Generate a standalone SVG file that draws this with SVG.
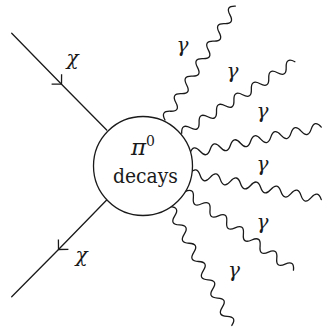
<svg xmlns="http://www.w3.org/2000/svg" width="325" height="328" viewBox="0 0 325 328">
<style>
.ln{fill:none;stroke:#1a1a1a;stroke-width:1.3;stroke-linecap:round;stroke-linejoin:round}
.lbl{font-family:"DejaVu Serif","Liberation Serif",serif;font-style:italic;font-size:20px;fill:#1a1a1a;text-anchor:middle}
.txt{font-family:"DejaVu Serif","Liberation Serif",serif;font-size:21px;fill:#1a1a1a;text-anchor:middle}
</style>
<defs>
<marker id="chev" markerUnits="userSpaceOnUse" markerWidth="12" markerHeight="18" refX="9" refY="9" orient="auto" overflow="visible">
<path d="M2,2 L9,9 L2,16" fill="none" stroke="#1a1a1a" stroke-width="1.3"/>
</marker>
<path id="wave" d="M0,0 q5.15,-9 10.3,0 t10.3,0 t10.3,0 t10.3,0 t10.3,0 t10.3,0 t10.3,0 t10.3,0 t10.3,0 t10.3,0 t10.3,0 t10.3,0 t10.3,0"/>
</defs>
<g id="connectors">
<path class="ln" d="M11.7,33.3 L61.5,84.2 L106.7,130" marker-mid="url(#chev)"/>
<path class="ln" d="M106.7,200 L58.5,249.5 L11.7,296.7" marker-mid="url(#chev)"/>
<use href="#wave" class="ln" transform="translate(165,120) rotate(-58.3)"/>
<use href="#wave" class="ln" transform="translate(181.7,133.3) rotate(-32.3)"/>
<use href="#wave" class="ln" transform="translate(190,153.3) rotate(-11.3)"/>
<use href="#wave" class="ln" transform="translate(190,173.3) rotate(11.35)"/>
<use href="#wave" class="ln" transform="translate(185,191.7) rotate(35.9)"/>
<use href="#wave" class="ln" transform="translate(170,206.7) rotate(62.5)"/>
</g>
<g id="blob">
<circle cx="143" cy="166" r="49.5" fill="#fff" stroke="#1a1a1a" stroke-width="1.3"/>
<text class="txt" x="143" y="155"><tspan font-style="italic" font-size="23">π</tspan><tspan font-size="14" dy="-9">0</tspan></text>
<text class="txt" x="145.5" y="183" textLength="65" lengthAdjust="spacingAndGlyphs">decays</text>
</g>
<g id="labels">
<text class="lbl" x="72.5" y="65">χ</text>
<text class="lbl" x="81.5" y="262">χ</text>
<text class="lbl" x="182.5" y="52">γ</text>
<text class="lbl" x="232.5" y="78">γ</text>
<text class="lbl" x="262.5" y="118">γ</text>
<text class="lbl" x="262.5" y="171">γ</text>
<text class="lbl" x="262.5" y="229">γ</text>
<text class="lbl" x="234" y="277">γ</text>
</g>
</svg>
